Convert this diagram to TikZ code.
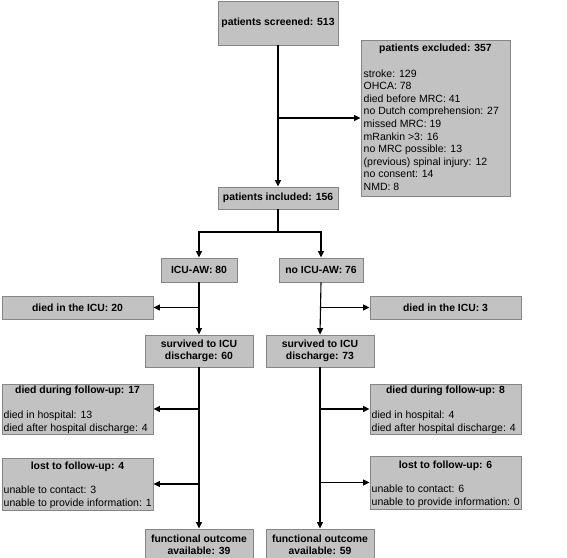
\documentclass[tikz,border=0pt]{standalone}
\usepackage{fontspec}
\setmainfont{Liberation Sans}
\usetikzlibrary{arrows.meta}
\definecolor{boxfill}{HTML}{C2C2C2}
\definecolor{boxline}{HTML}{858585}
\begin{document}
\begin{tikzpicture}[x=1pt,y=-1pt,
  box/.style={draw=boxline, fill=boxfill, line width=0.9pt, inner sep=0pt, align=center,
    font=\fontsize{10.4}{12.2}\selectfont\bfseries},
  title/.style={anchor=base, inner sep=0pt, font=\fontsize{10.4}{12.2}\selectfont\bfseries},
  list/.style={anchor=base west, inner sep=0pt, font=\fontsize{10.5}{12.6}\selectfont},
  conn/.style={line width=1.1pt},
  arr/.style={conn, -{Triangle[length=6.5pt,width=6pt]}}]
\clip (0,0) rectangle (567,557);
\useasboundingbox (0,0) rectangle (567,557);
\fill[white] (0,0) rectangle (567,557);

% top
\node[box, minimum width=120pt, minimum height=44pt] (scr) at (278,23) {patients screened: 513};
\node[box, minimum width=149pt, minimum height=156pt] (exc) at (435.5,118) {};
\node[title] (exct) at (435.5,51.5) {patients excluded: 357};
\node[list] (excl) at (363.5,77) {\parbox[t]{200pt}{\raggedright\fontsize{10.5}{12.6}\selectfont
stroke: 129\\OHCA: 78\\died before MRC: 41\\no Dutch comprehension: 27\\missed MRC: 19\\mRankin >3: 16\\no MRC possible: 13\\(previous) spinal injury: 12\\no consent: 14\\NMD: 8}};
\node[box, minimum width=120pt, minimum height=22pt] (inc) at (278,198) {patients included: 156};

% groups
\node[box, minimum width=76pt, minimum height=24pt] (icu) at (199,270) {ICU-AW: 80};
\node[box, minimum width=84pt, minimum height=24pt] (noicu) at (321,270) {no ICU-AW: 76};

\node[box, minimum width=151pt, minimum height=23pt] (diedL) at (77.5,307.5) {died in the ICU: 20};
\node[box, minimum width=151pt, minimum height=23pt] (diedR) at (445.5,307.5) {died in the ICU: 3};

\node[box, minimum width=108pt, minimum height=32pt] (survL) at (199,351) {survived to ICU\\discharge: 60};
\node[box, minimum width=108pt, minimum height=32pt] (survR) at (320,351) {survived to ICU\\discharge: 73};

% follow-up left
\node[box, minimum width=151pt, minimum height=50pt] (fuL) at (77.5,409) {};
\node[title] (fuLt) at (77.5,393.5) {died during follow-up: 17};
\node[list] (fuLl) at (3.5,418.7) {\parbox[t]{200pt}{\raggedright\fontsize{10.5}{13}\selectfont
died in hospital: 13\\died after hospital discharge: 4}};
\node[box, minimum width=151pt, minimum height=52pt] (lostL) at (77.5,484) {};
\node[title] (lostLt) at (77.5,469) {lost to follow-up: 4};
\node[list] (lostLl) at (3.5,493.7) {\parbox[t]{200pt}{\raggedright\fontsize{10.5}{13}\selectfont
unable to contact: 3\\unable to provide information: 1}};

% follow-up right
\node[box, minimum width=151pt, minimum height=50pt] (fuR) at (445.5,409) {};
\node[title] (fuRt) at (445.5,393.5) {died during follow-up: 8};
\node[list] (fuRl) at (371.5,418.7) {\parbox[t]{200pt}{\raggedright\fontsize{10.5}{13}\selectfont
died in hospital: 4\\died after hospital discharge: 4}};
\node[box, minimum width=151pt, minimum height=53pt] (lostR) at (445.5,482.5) {};
\node[title] (lostRt) at (445.5,468) {lost to follow-up: 6};
\node[list] (lostRl) at (371.5,492.7) {\parbox[t]{200pt}{\raggedright\fontsize{10.5}{13}\selectfont
unable to contact: 6\\unable to provide information: 0}};

% outcome
\node[box, minimum width=108pt, minimum height=31pt] (funL) at (199,544.5) {functional outcome\\available: 39};
\node[box, minimum width=108pt, minimum height=31pt] (funR) at (320,544.5) {functional outcome\\available: 59};

% connectors
\draw[arr] (scr.south) -- (inc.north);
\draw[arr] (scr.south |- exc.west) -- (exc.west);
\coordinate (split) at (278,232);
\draw[conn] (inc.south) -- (split);
\draw[arr] (split) -| (icu.north);
\draw[arr] (split) -| (noicu.north);
\draw[arr] (icu.south) -- (survL.north);
\draw[arr] (icu.south |- diedL.east) -- (diedL.east);
\draw[arr] (noicu.south) -- (survR.north);
\draw[arr] (noicu.south |- diedR.west) -- (diedR.west);
\draw[arr] (survL.south) -- (funL.north);
\draw[arr] (survL.south |- fuL.east) -- (fuL.east);
\draw[arr] (survL.south |- lostL.east) -- (lostL.east);
\draw[arr] (survR.south) -- (funR.north);
\draw[arr] (survR.south |- fuR.west) -- (fuR.west);
\draw[arr] (survR.south |- lostR.west) -- (lostR.west);
\end{tikzpicture}
\end{document}
